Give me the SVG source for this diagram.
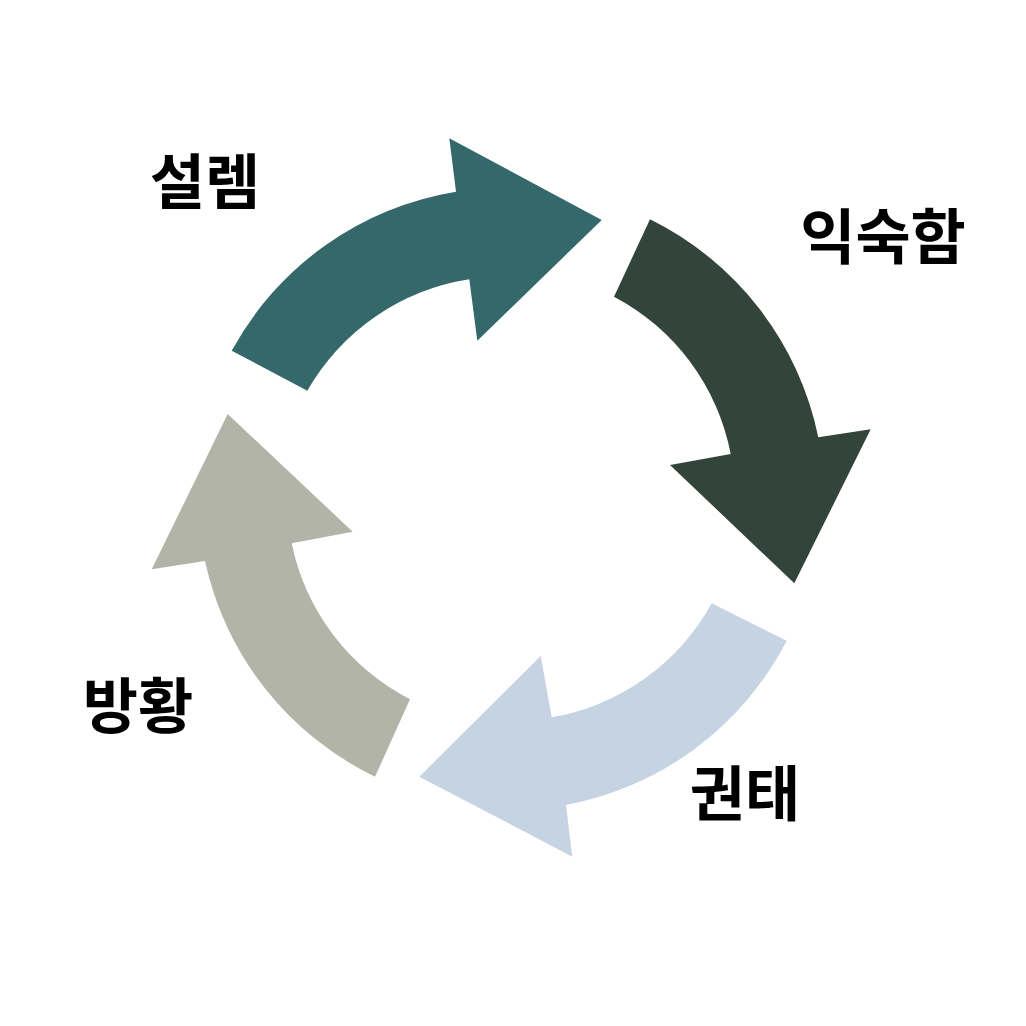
<svg xmlns="http://www.w3.org/2000/svg" width="1026" height="1026" viewBox="0 0 1026 1026">
<style>
.lbl{font-family:"Noto Sans CJK KR","Noto Sans",sans-serif;font-weight:700;font-size:60px;fill:#000;text-anchor:middle}
</style>
<rect width="1026" height="1026" fill="#fff"/>
<g id="connectors">
<path id="arrow-teal" fill="#34686a" d="M231.7,350.7 A313,313 0 0 1 456,191.7 L449.3,138.3 L601.7,220 L477.3,340.7 L469.3,279.3 A226,226 0 0 0 307.3,390.7 Z"/>
<path id="arrow-dark" fill="#33443a" d="M650,219.3 A313,313 0 0 1 818.3,437.3 L870.7,429.3 L794.3,583.3 L670,465 L730.7,454 A226,226 0 0 0 614,296.7 Z"/>
<path id="arrow-blue" fill="#c5d3e2" d="M786.7,640.7 A313,313 0 0 1 566,805 L572.3,856.7 L419.3,776.7 L540.7,656 L551.7,717.3 A226,226 0 0 0 711.7,603.3 Z"/>
<path id="arrow-gray" fill="#b2b4a7" d="M375,776.7 A313,313 0 0 1 205,561 L151.7,569.3 L227.7,414 L352.7,531.7 L291.7,543.3 A226,226 0 0 0 410,699.3 Z"/>
</g>
<g id="node-seolrem"><text class="lbl" x="205" y="204">설렘</text></g>
<g id="node-iksukham"><text class="lbl" x="883" y="259">익숙함</text></g>
<g id="node-gwontae"><text class="lbl" x="745" y="816">권태</text></g>
<g id="node-banghwang"><text class="lbl" x="138" y="728">방황</text></g>
</svg>
